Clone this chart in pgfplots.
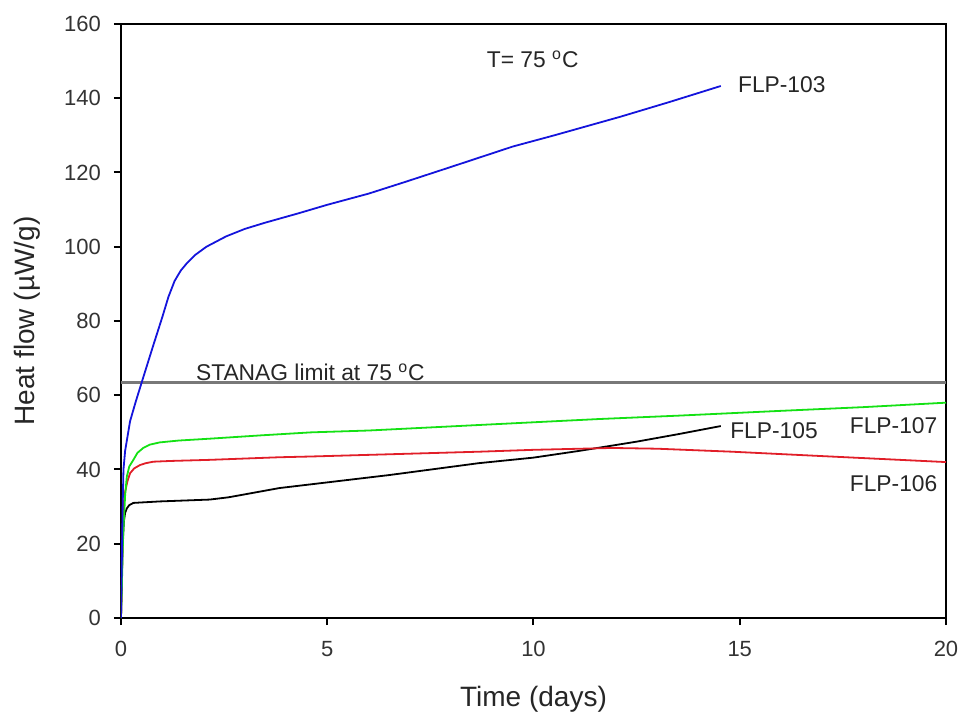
\documentclass[border=0pt]{standalone}
\usepackage{pgfplots}
\pgfplotsset{compat=1.18}
\usepackage{fontspec}
\setmainfont{Liberation Sans}
\definecolor{c103}{RGB}{20,20,220}
\definecolor{c107}{RGB}{20,225,20}
\definecolor{c106}{RGB}{225,30,40}
\definecolor{climit}{RGB}{120,120,120}

\pgfplotstableread{
x y
0 0
0.02 15
0.04 30
0.06 40
0.1 45
0.22 53
0.35 58
0.5 63.4
0.77 73
1.0 81
1.15 86.5
1.3 90.8
1.45 93.6
1.6 95.6
1.8 97.8
2.07 100
2.55 102.8
3.0 104.8
3.5 106.5
4.3 109
5 111.3
6 114.3
6.9 117.5
8 121.5
9.5 127
10.5 130
12.1 135
13.3 139
14.54 143.3
}\flpA

\pgfplotstableread{
x y
0 0
0.02 8
0.04 18
0.06 24
0.1 33
0.14 38
0.2 40.8
0.3 42.6
0.4 44.5
0.54 45.8
0.7 46.7
0.94 47.3
1.4 47.8
2.15 48.3
3.4 49.2
4.6 50
6 50.5
8.7 52
11.6 53.6
13.5 54.5
16 55.8
18 56.8
20 58
}\flpD

\pgfplotstableread{
x y
0 0
0.02 10
0.04 22
0.06 30
0.1 34
0.16 37
0.22 39
0.32 40.3
0.46 41.2
0.6 41.7
0.78 42.1
1.2 42.3
2.15 42.6
3.84 43.3
4.6 43.5
6.5 44.1
8.7 44.8
10 45.3
11.9 45.8
13 45.6
14.8 44.8
17.2 43.5
20 42
}\flpC

\pgfplotstableread{
x y
0 0
0.02 10
0.04 20
0.07 26
0.1 28.3
0.14 29.5
0.2 30.4
0.3 31
0.94 31.4
2.15 31.9
2.6 32.5
2.95 33.2
3.84 35
4.6 36
6.5 38.5
8.67 41.7
10 43.2
11.1 45
12.5 47.5
13.5 49.5
14.54 51.7
}\flpB

\begin{document}
\begin{tikzpicture}
\begin{axis}[
  scale only axis,
  width=412.5pt, height=297pt,
  xmin=0, xmax=20, ymin=0, ymax=160,
  xtick={0,5,...,20}, ytick={0,20,...,160},
  tick pos=left, tick align=outside,
  major tick length=3.5pt,
  axis line style={line width=1pt},
  tick style={line width=1pt, black},
  /pgf/number format/assume math mode=true,
  ticklabel style={font=\fontsize{11}{13}\selectfont, text=black!80},
  xticklabel style={yshift=-4.5pt},
  yticklabel style={xshift=-3pt},
  xlabel={Time (days)},
  ylabel={Heat flow (µW/g)},
  label style={font=\fontsize{14}{16}\selectfont, text=black!85},
  xlabel style={at={(axis description cs:0.5,0)}, anchor=center, yshift=-40.5pt},
  ylabel style={at={(axis description cs:0,0.5)}, anchor=center, yshift=47pt},
  every axis plot/.append style={line width=0.9pt, no markers},
]
\coordinate (o) at (rel axis cs:0,0);
\addplot[climit, line width=1.3pt] coordinates {(0,63.4) (20,63.4)};
\addplot[black] table[x=x,y=y] {\flpB};
\addplot[c106] table[x=x,y=y] {\flpC};
\addplot[c107] table[x=x,y=y] {\flpD};
\addplot[c103] table[x=x,y=y] {\flpA};

\begin{scope}[every node/.style={font=\fontsize{11.4}{13}\selectfont, text=black!85, inner sep=0pt}]
\node[anchor=west] at (axis cs:14.95,143.7) {FLP-103};
\node[anchor=west] at (axis cs:14.76,50.4) {FLP-105};
\node[anchor=west] at (axis cs:17.66,51.7) {FLP-107};
\node[anchor=west] at (axis cs:17.66,36.1) {FLP-106};
\node[anchor=west] at (axis cs:8.86,150.4) {T= 75 \textsuperscript{o}C};
\node[anchor=west] at (axis cs:1.81,66.3) {STANAG limit at 75 \textsuperscript{o}C};
\end{scope}
\end{axis}
\pgfresetboundingbox
\path ([shift={(-60.5pt,-47.5pt)}]o) rectangle ++(480pt,356.5pt);
\end{tikzpicture}
\end{document}
